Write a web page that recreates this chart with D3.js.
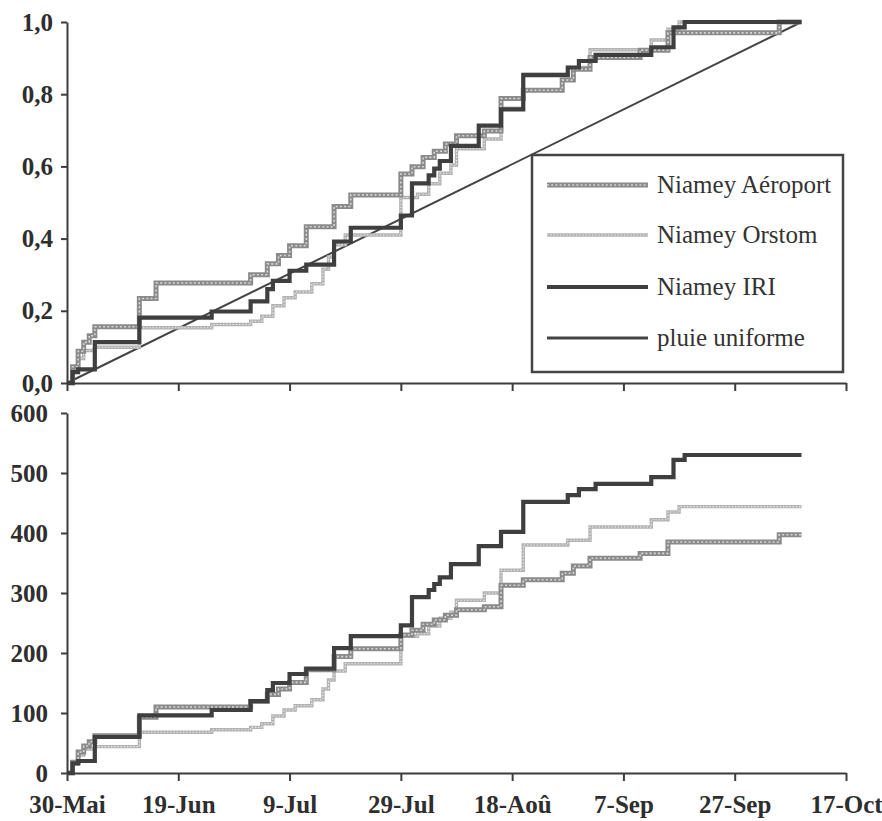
<!DOCTYPE html>
<html>
<head>
<meta charset="utf-8">
<script src="https://cdn.jsdelivr.net/npm/d3@7"></script>
<style>
  html, body { margin: 0; padding: 0; background: #fff; }
  svg { display: block; }
</style>
</head>
<body>
<svg id="chart" width="882" height="821"></svg>
<script>
// ---------- DATA ----------
const tickDates = ["05-30","06-19","07-09","07-29","08-18","09-07","09-27","10-17"];
const tickLabels = ["30-Mai","19-Jun","9-Jul","29-Jul","18-Aoû","7-Sep","27-Sep","17-Oct"];
const fracTicks = [0, 0.2, 0.4, 0.6, 0.8, 1.0];
const fracTickLabels = ["0,0","0,2","0,4","0,6","0,8","1,0"];
const rainTicks = [0, 100, 200, 300, 400, 500, 600];

// Niamey Aéroport
const aeroDates = ["05-30","05-31","06-01","06-02","06-03","06-04","06-12","06-15","07-02","07-05","07-07","07-09","07-12","07-17","07-20","07-29","07-31","08-02","08-04","08-06","08-08","08-13","08-16","08-20","08-27","08-29","09-01","09-10","09-15","10-05","10-09"];
const aeroRain  = [0,18,35,45,52,62,93,110,119,131,140,151,172,194,207,230,238,248,255,263,272,277,313,322,333,345,358,366,385,397,397];
const aeroFrac  = [0,.045,.088,.113,.131,.156,.234,.277,.300,.330,.353,.380,.433,.489,.521,.579,.599,.625,.642,.662,.685,.698,.788,.811,.839,.869,.902,.922,.970,1,1];

// Niamey Orstom
const orstDates = ["05-30","05-31","06-01","06-02","06-04","06-12","06-25","07-02","07-04","07-06","07-08","07-10","07-13","07-15","07-16","07-17","07-19","07-29","08-01","08-03","08-05","08-07","08-08","08-13","08-16","08-20","08-28","09-01","09-12","09-15","09-17","10-09"];
const orstRain  = [0,15,30,40,44,68,72,76,82,95,105,112,122,140,155,170,182,228,232,245,258,268,288,300,338,380,388,410,422,435,444,444];
const orstFrac  = [0,.034,.068,.090,.099,.153,.162,.171,.185,.214,.236,.252,.275,.315,.349,.383,.410,.514,.523,.552,.581,.604,.649,.676,.761,.856,.874,.923,.950,.980,1,1];

// Niamey IRI
const iriDates = ["05-30","05-31","06-01","06-04","06-12","06-25","07-02","07-05","07-06","07-09","07-12","07-17","07-20","07-29","07-31","08-03","08-04","08-05","08-07","08-12","08-16","08-20","08-28","08-30","09-02","09-12","09-16","09-18","10-09"];
const iriRain  = [0,16,20,60,96,105,120,138,150,165,174,208,228,246,293,305,315,326,348,378,402,452,463,473,482,493,522,530,530];
const iriFrac  = [0,.030,.038,.113,.181,.198,.226,.260,.283,.311,.328,.392,.430,.464,.553,.575,.594,.615,.657,.713,.758,.853,.874,.892,.909,.930,.985,1,1];

// pluie uniforme
const unifDates = ["05-30","10-09"];
const unifFrac  = [0, 1];

const legendLabels = ["Niamey Aéroport","Niamey Orstom","Niamey IRI","pluie uniforme"];

// ---------- SETUP ----------
const parse = d3.utcParse("%Y-%m-%d");
const toDate = s => parse("1992-" + s);
const zip = (ds, vs) => ds.map((d, i) => ({ date: toDate(d), v: vs[i] }));

const svg = d3.select("#chart");
const FONT = "'Liberation Serif', 'Times New Roman', serif";
const AXIS = "#3c3c3c";

const x = d3.scaleUtc().domain([toDate("05-30"), toDate("10-17")]).range([67, 846]);
const yTop = d3.scaleLinear().domain([0, 1]).range([383, 22]);
const yBot = d3.scaleLinear().domain([0, 600]).range([773, 413]);

const styles = {
  aero: [{stroke: "#8a8a8a", width: 5}, {stroke: "#d6d6d6", width: 1.6, dash: "2 2.2"}],
  orst: [{stroke: "#b2b2b2", width: 3.4}, {stroke: "#efefef", width: 1.1, dash: "1.4 1.8"}],
  iri:  [{stroke: "#3f3f3f", width: 4.2}],
  unif: [{stroke: "#444444", width: 2}]
};

function drawLine(g, data, yScale, st, curve) {
  const gen = d3.line().x(d => x(d.date)).y(d => yScale(d.v)).curve(curve);
  st.forEach(s => {
    g.append("path").datum(data)
      .attr("d", gen)
      .attr("fill", "none")
      .attr("stroke", s.stroke)
      .attr("stroke-width", s.width)
      .attr("stroke-linejoin", "miter")
      .attr("stroke-dasharray", s.dash || null);
  });
}

function styleAxis(g) {
  g.select(".domain").attr("stroke", AXIS).attr("stroke-width", 2);
  g.selectAll(".tick line").attr("stroke", AXIS).attr("stroke-width", 2);
  g.selectAll(".tick text")
    .attr("fill", "#2e2e2e")
    .style("font-family", FONT)
    .style("font-weight", "bold")
    .style("font-size", "25px");
}

// ---------- TOP CHART ----------
const topG = svg.append("g");
drawLine(topG, zip(unifDates, unifFrac), yTop, styles.unif, d3.curveLinear);
drawLine(topG, zip(orstDates, orstFrac), yTop, styles.orst, d3.curveStepAfter);
drawLine(topG, zip(aeroDates, aeroFrac), yTop, styles.aero, d3.curveStepAfter);
drawLine(topG, zip(iriDates, iriFrac), yTop, styles.iri, d3.curveStepAfter);

topG.append("g").attr("transform", "translate(0,383)")
  .call(d3.axisBottom(x).tickValues(tickDates.map(toDate)).tickFormat("").tickSize(8).tickSizeOuter(0))
  .call(styleAxis);
topG.append("g").attr("transform", "translate(67,0)")
  .call(d3.axisLeft(yTop).tickValues(fracTicks).tickFormat((d, i) => fracTickLabels[i]).tickSize(6).tickPadding(8).tickSizeOuter(0))
  .call(styleAxis);

// legend
const lg = topG.append("g");
lg.append("rect").attr("x", 532).attr("y", 155).attr("width", 311).attr("height", 217)
  .attr("fill", "#fff").attr("stroke", "#444").attr("stroke-width", 2.5);
const legStyles = [styles.aero, styles.orst, styles.iri, [{stroke: "#444", width: 3}]];
const legY = [185, 235, 287, 338];
legendLabels.forEach((lab, i) => {
  legStyles[i].forEach(s => {
    lg.append("line").attr("x1", 547).attr("x2", 648).attr("y1", legY[i]).attr("y2", legY[i])
      .attr("stroke", s.stroke).attr("stroke-width", s.width).attr("stroke-dasharray", s.dash || null);
  });
  lg.append("text").attr("x", 657).attr("y", legY[i]).attr("dy", "0.33em")
    .style("font-family", FONT).style("font-size", "25px").attr("fill", "#333")
    .text(lab);
});

// ---------- BOTTOM CHART ----------
const botG = svg.append("g");
drawLine(botG, zip(orstDates, orstRain), yBot, styles.orst, d3.curveStepAfter);
drawLine(botG, zip(aeroDates, aeroRain), yBot, styles.aero, d3.curveStepAfter);
drawLine(botG, zip(iriDates, iriRain), yBot, styles.iri, d3.curveStepAfter);

botG.append("g").attr("transform", "translate(0,773)")
  .call(d3.axisBottom(x).tickValues(tickDates.map(toDate)).tickFormat((d, i) => tickLabels[i]).tickSize(8).tickPadding(14).tickSizeOuter(0))
  .call(styleAxis);
botG.append("g").attr("transform", "translate(67,0)")
  .call(d3.axisLeft(yBot).tickValues(rainTicks).tickFormat(d => d).tickSize(6).tickPadding(13).tickSizeOuter(0))
  .call(styleAxis);
</script>
</body>
</html>
